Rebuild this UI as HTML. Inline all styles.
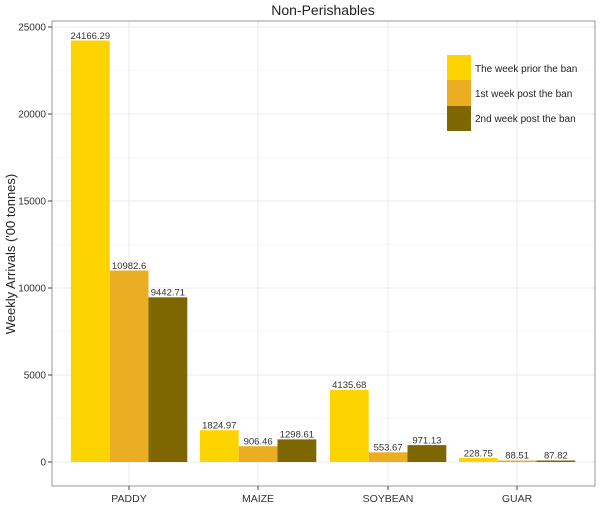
<!DOCTYPE html>
<html><head><meta charset="utf-8"><style>html,body{margin:0;padding:0;background:#fff}svg{display:block}</style></head>
<body>
<svg width="600" height="505" viewBox="0 0 600 505" font-family="Liberation Sans, sans-serif">
<rect width="600" height="505" fill="#fff"/>
<text x="323" y="15" font-size="14" text-anchor="middle" fill="#222">Non-Perishables</text>
<g stroke="#f2f2f2" stroke-width="0.6">
<line x1="52" x2="595" y1="418.5" y2="418.5"/><line x1="52" x2="595" y1="331.5" y2="331.5"/><line x1="52" x2="595" y1="244.5" y2="244.5"/><line x1="52" x2="595" y1="157.5" y2="157.5"/><line x1="52" x2="595" y1="70.5" y2="70.5"/>
</g>
<g stroke="#ebebeb" stroke-width="1">
<line x1="52" x2="595" y1="462" y2="462"/><line x1="52" x2="595" y1="375" y2="375"/><line x1="52" x2="595" y1="288" y2="288"/><line x1="52" x2="595" y1="201" y2="201"/><line x1="52" x2="595" y1="114" y2="114"/><line x1="52" x2="595" y1="27" y2="27"/>
<line y1="21" y2="486" x1="129" x2="129"/><line y1="21" y2="486" x1="258" x2="258"/><line y1="21" y2="486" x1="388" x2="388"/><line y1="21" y2="486" x1="517" x2="517"/>
</g>
<g>
<rect x="70.9" y="40.5" width="38.8" height="421.5" fill="#FDD400"/>
<rect x="109.7" y="270.5" width="38.8" height="191.5" fill="#EBAE23"/>
<rect x="148.5" y="297.3" width="38.8" height="164.7" fill="#7E6700"/>
<rect x="199.9" y="430.2" width="38.8" height="31.8" fill="#FDD400"/>
<rect x="238.7" y="446.2" width="38.8" height="15.8" fill="#EBAE23"/>
<rect x="277.5" y="439.4" width="38.8" height="22.6" fill="#7E6700"/>
<rect x="329.9" y="389.9" width="38.8" height="72.1" fill="#FDD400"/>
<rect x="368.7" y="452.3" width="38.8" height="9.7" fill="#EBAE23"/>
<rect x="407.5" y="445.1" width="38.8" height="16.9" fill="#7E6700"/>
<rect x="458.9" y="458" width="38.8" height="4" fill="#FDD400"/>
<rect x="497.7" y="460.5" width="38.8" height="1.5" fill="#EBAE23"/>
<rect x="536.5" y="460.5" width="38.8" height="1.5" fill="#7E6700"/>
</g>
<g font-size="9.5" fill="#333" text-anchor="middle">
<text x="90.3" y="39">24166.29</text>
<text x="129.1" y="269">10982.6</text>
<text x="167.9" y="295.5">9442.71</text>
<text x="219.3" y="428.5">1824.97</text>
<text x="258.1" y="444.5">906.46</text>
<text x="296.9" y="437.5">1298.61</text>
<text x="349.3" y="388">4135.68</text>
<text x="388.1" y="450.5">553.67</text>
<text x="426.9" y="443.5">971.13</text>
<text x="478.3" y="456.5">228.75</text>
<text x="517.1" y="458.5">88.51</text>
<text x="555.9" y="458.5">87.82</text>
</g>
<rect x="52" y="21" width="543" height="465" fill="none" stroke="#999" stroke-width="1"/>
<g stroke="#444" stroke-width="1">
<line x1="48" x2="52" y1="462" y2="462"/><line x1="48" x2="52" y1="375" y2="375"/><line x1="48" x2="52" y1="288" y2="288"/><line x1="48" x2="52" y1="201" y2="201"/><line x1="48" x2="52" y1="114" y2="114"/><line x1="48" x2="52" y1="27" y2="27"/>
<line y1="486" y2="490" x1="129" x2="129"/><line y1="486" y2="490" x1="258" x2="258"/><line y1="486" y2="490" x1="388" x2="388"/><line y1="486" y2="490" x1="517" x2="517"/>
</g>
<g font-size="10" fill="#333" text-anchor="end">
<text x="46" y="465.5">0</text><text x="46" y="378.5">5000</text><text x="46" y="291.5">10000</text><text x="46" y="204.5">15000</text><text x="46" y="117.5">20000</text><text x="46" y="30.5">25000</text>
</g>
<g font-size="10.5" fill="#333" text-anchor="middle">
<text x="129" y="502">PADDY</text><text x="258" y="502">MAIZE</text><text x="388" y="502">SOYBEAN</text><text x="517" y="502">GUAR</text>
</g>
<text transform="translate(15,254) rotate(-90)" font-size="13" fill="#222" text-anchor="middle">Weekly Arrivals ('00 tonnes)</text>
<rect x="447" y="55" width="24" height="25" fill="#FDD400"/>
<rect x="447" y="80" width="24" height="26" fill="#EBAE23"/>
<rect x="447" y="106" width="24" height="25" fill="#7E6700"/>
<g font-size="10" fill="#222">
<text x="475" y="72">The week prior the ban</text>
<text x="475" y="97">1st week post the ban</text>
<text x="475" y="122">2nd week post the ban</text>
</g>
</svg>
</body></html>
